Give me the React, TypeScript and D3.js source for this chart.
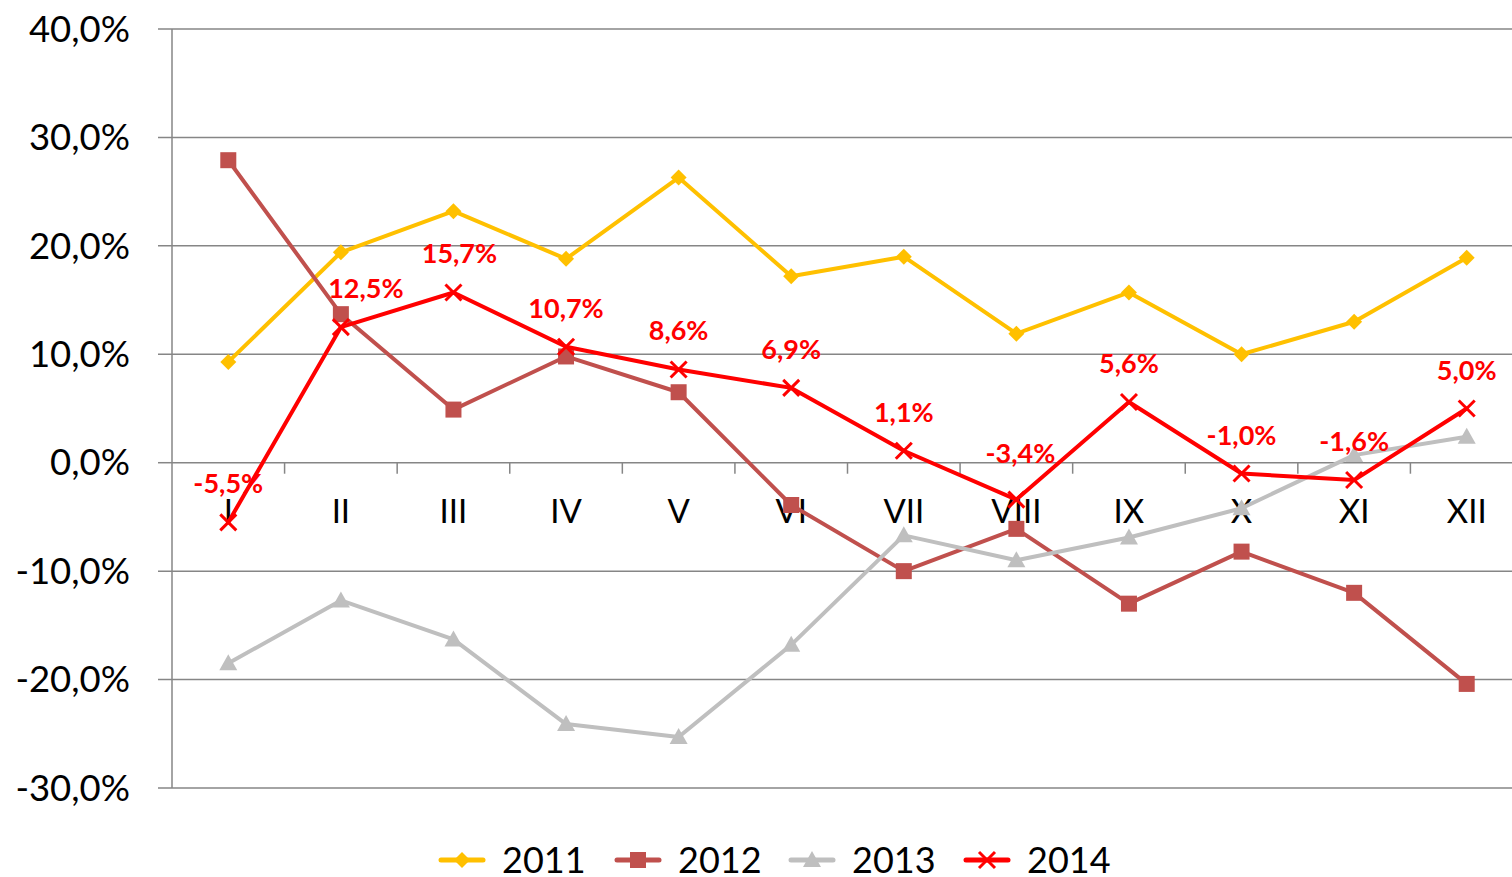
import React from "react";
import * as d3 from "d3";

const months = ["I", "II", "III", "IV", "V", "VI", "VII", "VIII", "IX", "X", "XI", "XII"];
const years = ["2011", "2012", "2013", "2014"];
const values2011 = [9.3, 19.4, 23.2, 18.8, 26.3, 17.2, 19.0, 11.9, 15.7, 10.0, 13.0, 18.9];
const values2012 = [27.9, 13.7, 4.9, 9.8, 6.5, -3.9, -10.0, -6.1, -13.0, -8.2, -12.0, -20.4];
const values2013 = [-18.5, -12.7, -16.3, -24.1, -25.3, -16.8, -6.7, -9.0, -6.9, -4.2, 0.7, 2.4];
const values2014 = [-5.5, 12.5, 15.7, 10.7, 8.6, 6.9, 1.1, -3.4, 5.6, -1.0, -1.6, 5.0];
const yTicks = [-30, -20, -10, 0, 10, 20, 30, 40];

const colors = ["#FFC000", "#C0504D", "#BFBFBF", "#FF0000"];
const seriesValues = [values2011, values2012, values2013, values2014];

const W = 1512;
const H = 877;
const font = "Lato, 'Open Sans', sans-serif";
const fmt = (v: number) => v.toFixed(1).replace(".", ",") + "%";

function Marker({ kind, x, y, color }: { kind: number; x: number; y: number; color: string }) {
  if (kind === 0) {
    const s = 8;
    return <path d={`M${x},${y - s}L${x + s},${y}L${x},${y + s}L${x - s},${y}Z`} fill={color} />;
  }
  if (kind === 1) {
    return <rect x={x - 8} y={y - 8} width={16} height={16} fill={color} />;
  }
  if (kind === 2) {
    return <path d={`M${x},${y - 9}L${x + 9},${y + 7}L${x - 9},${y + 7}Z`} fill={color} />;
  }
  const s = 8;
  return (
    <path
      d={`M${x - s},${y - s}L${x + s},${y + s}M${x - s},${y + s}L${x + s},${y - s}`}
      stroke={color}
      strokeWidth={3}
    />
  );
}

export default function App() {
  const x = d3.scaleBand<string>().domain(months).range([172, 1523]);
  const y = d3.scaleLinear().domain([-30, 40]).range([788, 29]);
  const cx = (m: string) => (x(m) as number) + x.bandwidth() / 2;
  const line = d3
    .line<number>()
    .x((_, i) => cx(months[i]))
    .y((d) => y(d));

  const legendX = [441, 617, 791, 966];
  // small nudges so labels sit like the original
  const labelDx = [0, 25, 6, 0, 0, 0, 0, 4, 0, 0, 0, 0];
  const labelDy = [0, 0, 0, 0, 0, 0, 0, -8, 0, 0, 0, 0];

  return (
    <svg width={W} height={H} style={{ position: "absolute", left: 0, top: 0 }}>
      <rect width={W} height={H} fill="#fff" />
      {yTicks.map((t) => (
        <g key={t}>
          <line
            x1={158}
            x2={t === 0 ? 172 : W}
            y1={y(t)}
            y2={y(t)}
            stroke="#868686"
            strokeWidth={1.5}
          />
          <text
            x={130}
            y={y(t)}
            dy="0.35em"
            textAnchor="end"
            fontFamily={font}
            fontSize={36.5}
            fill="#000"
          >
            {fmt(t)}
          </text>
        </g>
      ))}
      <line x1={172} x2={172} y1={y(40)} y2={y(-30)} stroke="#868686" strokeWidth={1.5} />
      <line x1={172} x2={W} y1={y(0)} y2={y(0)} stroke="#868686" strokeWidth={1.5} />
      {months.map((m, i) =>
        i > 0 ? (
          <line
            key={"t" + m}
            x1={x(m) as number}
            x2={x(m) as number}
            y1={y(0)}
            y2={y(0) + 11}
            stroke="#868686"
            strokeWidth={1.5}
          />
        ) : null
      )}
      {months.map((m) => (
        <text
          key={"l" + m}
          x={cx(m)}
          y={y(0) + 49}
          dy="0.35em"
          textAnchor="middle"
          fontFamily={font}
          fontSize={33}
          fill="#000"
        >
          {m}
        </text>
      ))}
      {seriesValues.map((vals, si) => (
        <g key={years[si]}>
          <path
            d={line(vals) as string}
            fill="none"
            stroke={colors[si]}
            strokeWidth={4}
            strokeLinejoin="round"
            strokeLinecap="round"
          />
          {vals.map((v, i) => (
            <Marker key={i} kind={si} x={cx(months[i])} y={y(v)} color={colors[si]} />
          ))}
        </g>
      ))}
      {values2014.map((v, i) => (
        <text
          key={"d" + i}
          x={cx(months[i]) + labelDx[i]}
          y={y(v) - 29 + labelDy[i]}
          textAnchor="middle"
          fontFamily={font}
          fontWeight="bold"
          fontSize={27}
          fill="#FF0000"
        >
          {fmt(v)}
        </text>
      ))}
      {years.map((yr, si) => (
        <g key={"lg" + yr}>
          <line
            x1={legendX[si]}
            x2={legendX[si] + 42}
            y1={860}
            y2={860}
            stroke={colors[si]}
            strokeWidth={5}
            strokeLinecap="round"
          />
          <Marker kind={si} x={legendX[si] + 21} y={860} color={colors[si]} />
          <text
            x={legendX[si] + 61}
            y={860}
            dy="0.35em"
            fontFamily={font}
            fontSize={36}
            fill="#000"
          >
            {yr}
          </text>
        </g>
      ))}
    </svg>
  );
}
